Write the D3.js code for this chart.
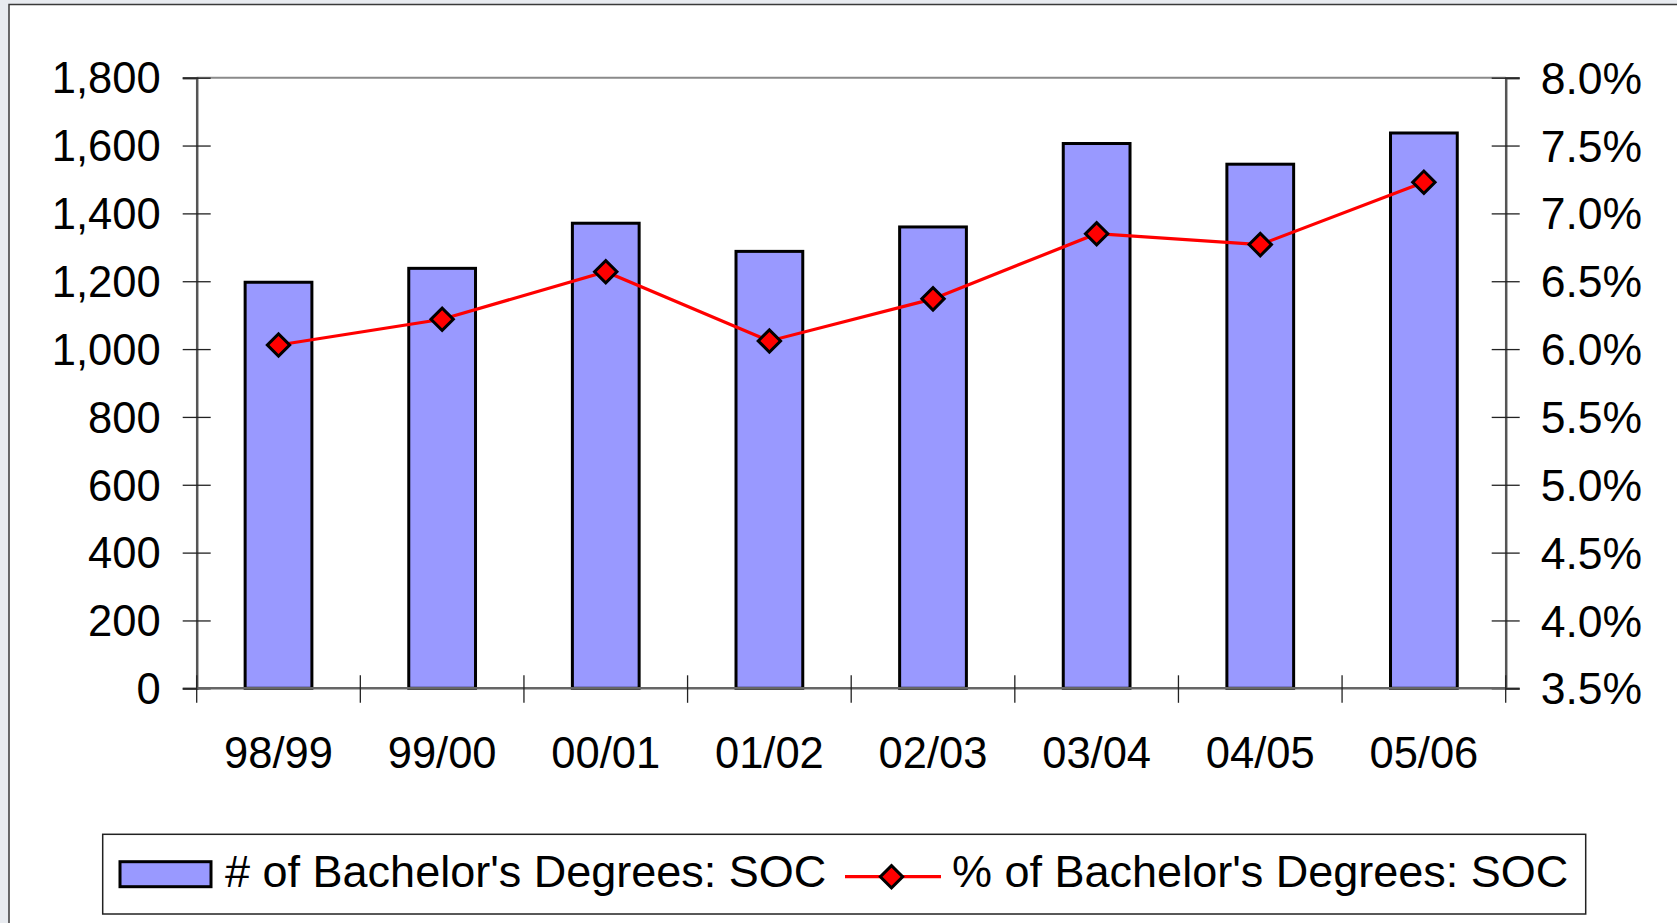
<!DOCTYPE html>
<html>
<head>
<meta charset="utf-8">
<script src="https://cdn.jsdelivr.net/npm/d3@7"></script>
<style>
    body { margin: 0; background: #e8ebf0; }
    svg { display: block; }
    text { font-family: "Liberation Sans", Arial, sans-serif; fill: #000; }
</style>
</head>
<body>
<div id="chart"></div>
<script>
// Data
const years = ["98/99", "99/00", "00/01", "01/02", "02/03", "03/04", "04/05", "05/06"];
const degreeCounts = [1197, 1238, 1371, 1288, 1360, 1606, 1545, 1637];
const degreePercents = [6.03, 6.22, 6.57, 6.06, 6.37, 6.85, 6.77, 7.23];
const leftTicks = [0, 200, 400, 600, 800, 1000, 1200, 1400, 1600, 1800];
const rightTicks = [3.5, 4.0, 4.5, 5.0, 5.5, 6.0, 6.5, 7.0, 7.5, 8.0];
const legendLabels = ["# of Bachelor's Degrees: SOC", "% of Bachelor's Degrees: SOC"];

const width = 1677;
const height = 923;
const plot = { left: 196.7, right: 1505.7, top: 77.7, bottom: 688.3 };
const barFill = "#9999ff";
const lineColor = "#ff0000";

const svg = d3.select("#chart")
              .append("svg")
              .attr("width", width)
              .attr("height", height);

// white panel with its border
svg.append("rect")
   .attr("x", 9).attr("y", 4.5)
   .attr("width", width + 50).attr("height", height + 50)
   .attr("fill", "#fff")
   .attr("stroke", "#3a3a3a")
   .attr("stroke-width", 1.5);

const x = d3.scaleBand()
            .domain(years)
            .range([plot.left, plot.right])
            .paddingInner(0.592)
            .paddingOuter(0.296);

const yLeft = d3.scaleLinear()
                .domain([0, 1800])
                .range([plot.bottom, plot.top]);

const yRight = d3.scaleLinear()
                 .domain([3.5, 8.0])
                 .range([plot.bottom, plot.top]);

// top frame line
svg.append("line")
   .attr("x1", plot.left).attr("x2", plot.right)
   .attr("y1", plot.top).attr("y2", plot.top)
   .attr("stroke", "#8a8a8a")
   .attr("stroke-width", 2);

// bars
svg.append("g")
   .selectAll("rect")
   .data(degreeCounts)
   .enter()
   .append("rect")
   .attr("x", (d, i) => x(years[i]))
   .attr("y", d => yLeft(d))
   .attr("width", x.bandwidth())
   .attr("height", d => yLeft(0) - yLeft(d))
   .attr("fill", barFill)
   .attr("stroke", "#000")
   .attr("stroke-width", 3);

// left axis
const leftAxis = svg.append("g")
   .attr("transform", `translate(${plot.left},0)`)
   .call(d3.axisLeft(yLeft).tickValues(leftTicks).tickFormat(d3.format(",")).tickSize(14).tickPadding(22));
leftAxis.select(".domain").attr("stroke", "#555").attr("stroke-width", 2.5);
leftAxis.selectAll(".tick line").attr("x1", 14).attr("stroke", "#222").attr("stroke-width", 1.3);
leftAxis.selectAll(".tick text")
        .attr("font-size", 43.5)
        .attr("font-family", "Liberation Sans, Arial, sans-serif")
        .attr("dy", "0.35em");

// right axis
const rightAxis = svg.append("g")
   .attr("transform", `translate(${plot.right},0)`)
   .call(d3.axisRight(yRight).tickValues(rightTicks).tickFormat(d => d.toFixed(1) + "%").tickSize(14).tickPadding(21));
rightAxis.select(".domain").attr("stroke", "#555").attr("stroke-width", 2.5);
rightAxis.selectAll(".tick line").attr("x1", -14).attr("stroke", "#222").attr("stroke-width", 1.3);
rightAxis.selectAll(".tick text")
         .attr("font-size", 44.5)
         .attr("font-family", "Liberation Sans, Arial, sans-serif")
         .attr("dy", "0.35em");

// bottom axis: ticks between categories, labels centred below
const bottom = svg.append("g").attr("transform", `translate(0,${plot.bottom})`);
bottom.append("line")
      .attr("x1", plot.left).attr("x2", plot.right)
      .attr("stroke", "#666").attr("stroke-width", 2.5);
const boundaries = years.map(d => x(d) - x.step() * x.paddingOuter()).concat([plot.right]);
bottom.selectAll("line.tick")
      .data(boundaries)
      .enter()
      .append("line")
      .attr("class", "tick")
      .attr("x1", d => d).attr("x2", d => d)
      .attr("y1", -13).attr("y2", 14.5)
      .attr("stroke", "#222").attr("stroke-width", 1.3);
bottom.selectAll("text")
      .data(years)
      .enter()
      .append("text")
      .attr("x", d => x(d) + x.bandwidth() / 2)
      .attr("y", 79.4)
      .attr("text-anchor", "middle")
      .attr("font-size", 43.5)
      .text(d => d);

// percentage line
const line = d3.line()
               .x((d, i) => x(years[i]) + x.bandwidth() / 2)
               .y(d => yRight(d));

svg.append("path")
   .datum(degreePercents)
   .attr("d", line)
   .attr("fill", "none")
   .attr("stroke", lineColor)
   .attr("stroke-width", 3.2);

const diamond = d3.symbol().type(d3.symbolSquare).size(250);

svg.append("g")
   .selectAll("path")
   .data(degreePercents)
   .enter()
   .append("path")
   .attr("d", diamond)
   .attr("transform", (d, i) => `translate(${x(years[i]) + x.bandwidth() / 2},${yRight(d)}) rotate(45)`)
   .attr("fill", lineColor)
   .attr("stroke", "#000")
   .attr("stroke-width", 3);

// legend
const legend = svg.append("g");
legend.append("rect")
      .attr("x", 102.7).attr("y", 834.3)
      .attr("width", 1483).attr("height", 79.7)
      .attr("fill", "#fff")
      .attr("stroke", "#222")
      .attr("stroke-width", 1.5);
legend.append("rect")
      .attr("x", 120).attr("y", 861.7)
      .attr("width", 91).attr("height", 25)
      .attr("fill", barFill)
      .attr("stroke", "#000")
      .attr("stroke-width", 3);
legend.append("text")
      .attr("x", 225).attr("y", 886.5)
      .attr("font-size", 45)
      .text(legendLabels[0]);
legend.append("line")
      .attr("x1", 845).attr("x2", 941)
      .attr("y1", 876.7).attr("y2", 876.7)
      .attr("stroke", lineColor)
      .attr("stroke-width", 3.2);
legend.append("path")
      .attr("d", diamond)
      .attr("transform", "translate(891.5,876.7) rotate(45)")
      .attr("fill", lineColor)
      .attr("stroke", "#000")
      .attr("stroke-width", 3);
legend.append("text")
      .attr("x", 952).attr("y", 886.5)
      .attr("font-size", 45)
      .text(legendLabels[1]);
</script>
</body>
</html>
